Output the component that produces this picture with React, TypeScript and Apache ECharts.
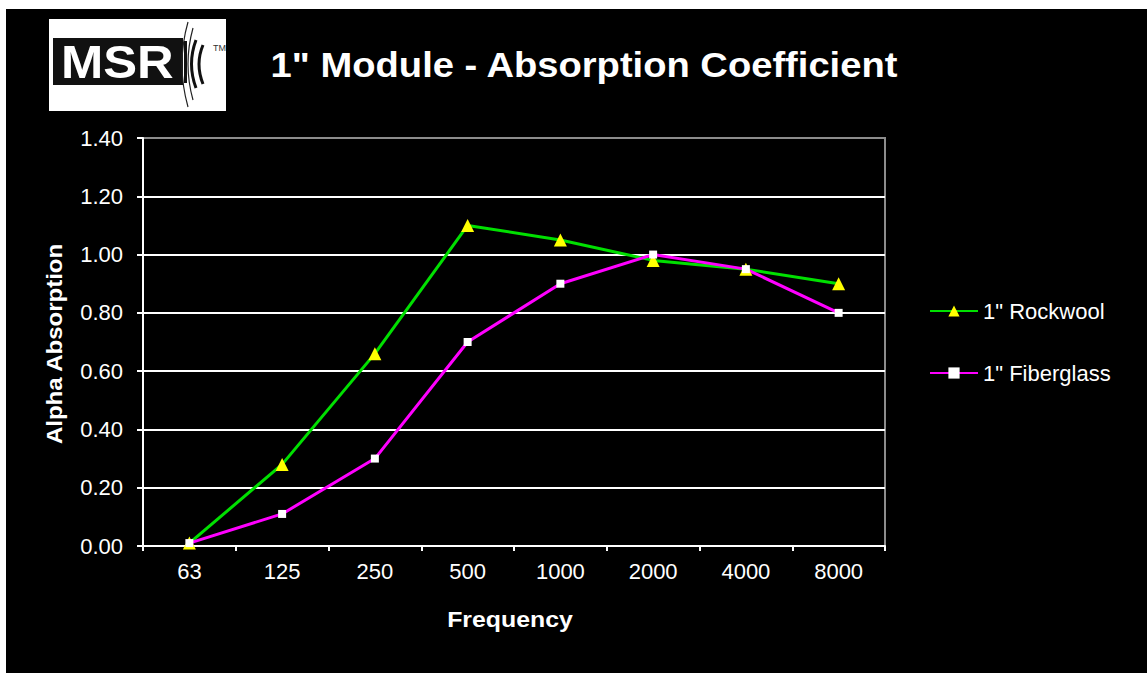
import React, { useEffect, useRef } from 'react';
import * as echarts from 'echarts';

const FONT = '"Liberation Sans", Arial, Helvetica, sans-serif';

const categories = ['63', '125', '250', '500', '1000', '2000', '4000', '8000'];
const rockwool = [0.01, 0.28, 0.66, 1.1, 1.05, 0.98, 0.95, 0.9];
const fiberglass = [0.01, 0.11, 0.3, 0.7, 0.9, 1.0, 0.95, 0.8];
const seriesNames = ['1" Rockwool', '1" Fiberglass'];
const titleText = '1" Module - Absorption Coefficient';
const xTitle = 'Frequency';
const yTitle = 'Alpha Absorption';

export default function App() {
  const ref = useRef<HTMLDivElement>(null);
  useEffect(() => {
    const chart = echarts.init(ref.current!, null, { renderer: 'svg' });
    chart.setOption({
      animation: false,
      backgroundColor: '#000000',
      textStyle: { fontFamily: FONT },
      grid: {
        left: 137,
        top: 129,
        width: 742,
        height: 408,
        show: true,
        borderColor: '#8c8c8c',
        borderWidth: 2,
        backgroundColor: 'transparent',
      },
      legend: {
        orient: 'vertical',
        left: 923,
        top: 291,
        padding: 0,
        itemWidth: 48,
        itemHeight: 14,
        itemGap: 40,
        textStyle: { color: '#ffffff', fontSize: 22, fontFamily: FONT },
        data: seriesNames,
        selectedMode: false,
      },
      xAxis: {
        type: 'category',
        data: categories,
        boundaryGap: true,
        axisLine: { show: true, lineStyle: { color: '#ffffff', width: 2 } },
        axisTick: { show: true, length: 5, lineStyle: { color: '#ffffff', width: 2 } },
        axisLabel: { color: '#ffffff', fontSize: 22, margin: 14, fontFamily: FONT },
        splitLine: { show: false },
      },
      yAxis: {
        type: 'value',
        min: 0,
        max: 1.4,
        interval: 0.2,
        axisLine: { show: true, lineStyle: { color: '#ffffff', width: 2 } },
        axisTick: { show: true, length: 6, lineStyle: { color: '#ffffff', width: 2 } },
        axisLabel: {
          color: '#ffffff',
          fontSize: 22,
          margin: 20,
          fontFamily: FONT,
          formatter: (v: number) => v.toFixed(2),
        },
        splitLine: {
          show: true,
          lineStyle: {
            color: ['#ffffff', '#ffffff', '#ffffff', '#ffffff', '#ffffff', '#ffffff', '#ffffff', '#8c8c8c'],
            width: 2,
          },
        },
      },
      series: [
        {
          name: seriesNames[0],
          type: 'line',
          data: rockwool,
          symbol: 'triangle',
          symbolSize: 13,
          lineStyle: { color: '#00e000', width: 3 },
          itemStyle: { color: '#ffff00' },
          emphasis: { disabled: true },
        },
        {
          name: seriesNames[1],
          type: 'line',
          data: fiberglass,
          symbol: 'rect',
          symbolSize: 8,
          lineStyle: { color: '#ff00ff', width: 3 },
          itemStyle: { color: '#ffffff' },
          emphasis: { disabled: true },
        },
      ],
      graphic: [
        // logo
        { type: 'rect', shape: { x: 43, y: 10, width: 177, height: 92 }, style: { fill: '#ffffff' } },
        { type: 'rect', shape: { x: 47, y: 29, width: 130, height: 47 }, style: { fill: '#111111' } },
        {
          type: 'text',
          x: 55,
          y: 53,
          scaleX: 1.08,
          style: {
            text: 'MSR',
            fill: '#ffffff',
            font: `900 47px ${FONT}`,
            textAlign: 'left',
            textVerticalAlign: 'middle',
          },
        },
        { type: 'bezierCurve', shape: { x1: 182, y1: 13, cpx1: 170, cpy1: 55, x2: 182, y2: 98 }, style: { stroke: '#222', lineWidth: 1.2, fill: null } },
        { type: 'bezierCurve', shape: { x1: 187, y1: 19, cpx1: 177, cpy1: 55, x2: 187, y2: 91 }, style: { stroke: '#222', lineWidth: 1.2, fill: null } },
        { type: 'bezierCurve', shape: { x1: 190, y1: 31, cpx1: 181, cpy1: 55, x2: 190, y2: 79 }, style: { stroke: '#111', lineWidth: 3, fill: null } },
        { type: 'bezierCurve', shape: { x1: 197, y1: 36, cpx1: 189, cpy1: 55, x2: 197, y2: 75 }, style: { stroke: '#111', lineWidth: 3, fill: null } },
        { type: 'rect', shape: { x: 178, y: 32, width: 3, height: 42 }, style: { fill: '#111' } },
        {
          type: 'text',
          x: 207,
          y: 34,
          style: { text: 'TM', fill: '#333', font: `9px ${FONT}`, textAlign: 'left', textVerticalAlign: 'top' },
        },
        // title
        {
          type: 'text',
          x: 578,
          y: 56,
          scaleX: 1.09,
          style: {
            text: titleText,
            fill: '#ffffff',
            font: `bold 35px ${FONT}`,
            textAlign: 'center',
            textVerticalAlign: 'middle',
          },
        },
        // axis titles
        {
          type: 'text',
          x: 504,
          y: 611,
          scaleX: 1.13,
          style: {
            text: xTitle,
            fill: '#ffffff',
            font: `bold 22px ${FONT}`,
            textAlign: 'center',
            textVerticalAlign: 'middle',
          },
        },
        {
          type: 'text',
          x: 48,
          y: 335,
          rotation: Math.PI / 2,
          scaleX: 1.09,
          style: {
            text: yTitle,
            fill: '#ffffff',
            font: `bold 22px ${FONT}`,
            textAlign: 'center',
            textVerticalAlign: 'middle',
          },
        },
      ],
    });
    return () => chart.dispose();
  }, []);
  return (
    <div
      style={{
        position: 'fixed',
        left: 0,
        top: 0,
        width: 1147,
        height: 673,
        background: '#ffffff',
        overflow: 'hidden',
      }}
    >
      <div ref={ref} style={{ position: 'absolute', left: 6, top: 9, width: 1141, height: 664 }} />
    </div>
  );
}
